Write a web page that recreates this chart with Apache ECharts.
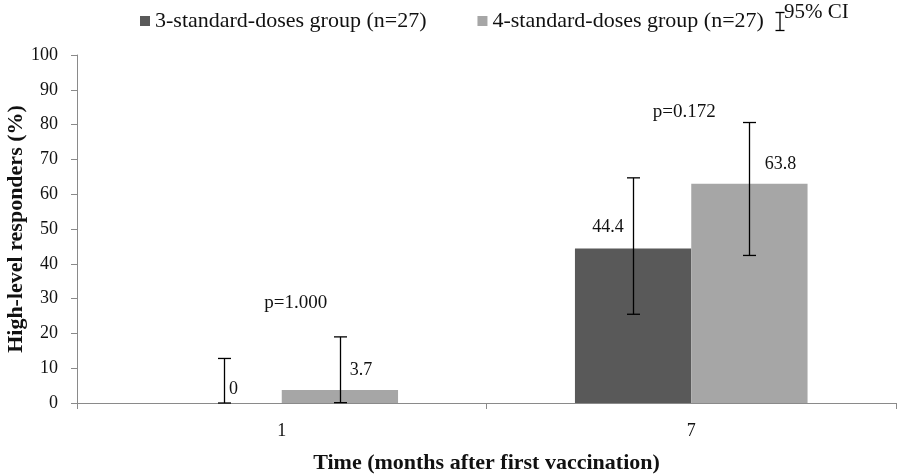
<!DOCTYPE html>
<html>
<head>
<meta charset="utf-8">
<script src="https://cdn.jsdelivr.net/npm/echarts@6/dist/echarts.min.js"></script>
<style>
html,body{margin:0;padding:0;background:#fff;}
#chart{width:898px;height:475px;}
</style>
</head>
<body>
<div id="chart"></div>
<script>
// ---- data ----
var categories = ['1', '7'];
var seriesNames = ['3-standard-doses group (n=27)', '4-standard-doses group (n=27)'];
var threeDoseValues = [0, 44.4];
var fourDoseValues = [3.7, 63.0];
var threeDoseLabels = ['0', '44.4'];
var fourDoseLabels = ['3.7', '63.8'];
var threeDoseCILow = [0, 25.5];
var threeDoseCIHigh = [12.8, 64.7];
var fourDoseCILow = [0.1, 42.4];
var fourDoseCIHigh = [19.0, 80.6];
var pValues = ['p=1.000', 'p=0.172'];
var yTicks = [0, 10, 20, 30, 40, 50, 60, 70, 80, 90, 100];

// ---- layout / style ----
var FONT = '"Liberation Serif", "Times New Roman", serif';
var DARK = '#595959';
var LIGHT = '#a6a6a6';
var AXIS = '#8a8a8a';
var BAR_FRAC = 0.284;
var labelOffsetsThree = [[10, 0], [-25, -7]];
var labelOffsetsFour = [[21, -6], [31, -5]];
var pLayout = [{ level: 28.7, dx: 14 }, { level: 83.5, dx: -7 }];

function barData(values, labels, offsets) {
  return values.map(function (v, i) {
    return { value: v, label: { offset: offsets[i], formatter: labels[i] } };
  });
}
function ciData(lows, highs) {
  return lows.map(function (l, i) { return [i, l, highs[i]]; });
}
function errorRender(side) {
  return function (params, api) {
    var idx = api.value(0);
    var band = api.size([1, 0])[0];
    var dx = side * band * BAR_FRAC / 2;
    var lo = api.coord([idx, api.value(1)]);
    var hi = api.coord([idx, api.value(2)]);
    var x = Math.round(lo[0] + dx) + 0.5;
    var cap = 6.5;
    var st = { stroke: '#000', lineWidth: 1.3 };
    return {
      type: 'group',
      children: [
        { type: 'line', shape: { x1: x, y1: lo[1], x2: x, y2: hi[1] }, style: st },
        { type: 'line', shape: { x1: x - cap, y1: hi[1], x2: x + cap, y2: hi[1] }, style: st },
        { type: 'line', shape: { x1: x - cap, y1: lo[1], x2: x + cap, y2: lo[1] }, style: st }
      ]
    };
  };
}

var chart = echarts.init(document.getElementById('chart'), null, { renderer: 'canvas' });
var option = {
  backgroundColor: '#fff',
  animation: false,
  textStyle: { fontFamily: FONT },
  grid: { left: 77, right: 2, top: 55, bottom: 72, containLabel: false, outerBoundsMode: 'none' },
  legend: {
    data: seriesNames,
    left: 135,
    top: 5,
    itemWidth: 10,
    itemHeight: 10,
    itemGap: 51,
    icon: 'rect',
    textStyle: { fontFamily: FONT, fontSize: 22, color: '#111' }
  },
  graphic: [
    {
      type: 'group', left: 773, top: 10,
      children: [
        { type: 'line', shape: { x1: 4.5, y1: 0, x2: 4.5, y2: 18 }, style: { stroke: '#000', lineWidth: 1.3 } },
        { type: 'line', shape: { x1: 0, y1: 0, x2: 9, y2: 0 }, style: { stroke: '#000', lineWidth: 1.3 } },
        { type: 'line', shape: { x1: 0, y1: 18, x2: 9, y2: 18 }, style: { stroke: '#000', lineWidth: 1.3 } }
      ]
    },
    {
      type: 'text', left: 784, top: 2,
      style: { text: '95% CI', fontFamily: FONT, fontSize: 21, fill: '#111' }
    }
  ],
  xAxis: {
    type: 'category',
    data: categories,
    boundaryGap: true,
    name: 'Time (months after first vaccination)',
    nameLocation: 'middle',
    nameGap: 49,
    nameTextStyle: { fontFamily: FONT, fontSize: 22, fontWeight: 'bold', color: '#111' },
    axisLine: { show: true, lineStyle: { color: AXIS, width: 1 } },
    axisTick: { show: true, length: 6, lineStyle: { color: AXIS } },
    axisLabel: { fontFamily: FONT, fontSize: 18, color: '#111', margin: 19 },
    splitLine: { show: false }
  },
  yAxis: {
    type: 'value',
    min: 0,
    max: 100,
    interval: 10,
    name: 'High-level responders (%)',
    nameLocation: 'middle',
    nameGap: 50,
    nameRotate: 90,
    nameMoveOverlap: false,
    nameTextStyle: { fontFamily: FONT, fontSize: 22, fontWeight: 'bold', color: '#111' },
    axisLine: { show: true, lineStyle: { color: AXIS, width: 1 } },
    axisTick: { show: true, length: 6, lineStyle: { color: AXIS } },
    axisLabel: {
      fontFamily: FONT, fontSize: 18, color: '#111', margin: 19,
      formatter: function (v) { return yTicks.indexOf(v) >= 0 ? String(v) : ''; }
    },
    splitLine: { show: false }
  },
  series: [
    {
      name: seriesNames[0],
      type: 'bar',
      barWidth: (BAR_FRAC * 100) + '%',
      barGap: '0%',
      itemStyle: { color: DARK },
      label: { show: true, position: 'top', fontFamily: FONT, fontSize: 18, color: '#111' },
      data: barData(threeDoseValues, threeDoseLabels, labelOffsetsThree),
      z: 2
    },
    {
      name: seriesNames[1],
      type: 'bar',
      barWidth: (BAR_FRAC * 100) + '%',
      barGap: '0%',
      itemStyle: { color: LIGHT },
      label: { show: true, position: 'top', fontFamily: FONT, fontSize: 18, color: '#111' },
      data: barData(fourDoseValues, fourDoseLabels, labelOffsetsFour),
      z: 2
    },
    {
      type: 'custom',
      renderItem: errorRender(-1),
      encode: { x: 0, y: [1, 2] },
      data: ciData(threeDoseCILow, threeDoseCIHigh),
      z: 5,
      silent: true
    },
    {
      type: 'custom',
      renderItem: errorRender(1),
      encode: { x: 0, y: [1, 2] },
      data: ciData(fourDoseCILow, fourDoseCIHigh),
      z: 5,
      silent: true
    },
    {
      type: 'custom',
      renderItem: function (params, api) {
        var i = params.dataIndex;
        var p = api.coord([i, pLayout[i].level]);
        return {
          type: 'text',
          x: p[0] + pLayout[i].dx,
          y: p[1],
          style: {
            text: pValues[i], fontFamily: FONT, fontSize: 19, fill: '#111',
            align: 'center', verticalAlign: 'middle'
          }
        };
      },
      encode: { x: 0 },
      data: categories.map(function (c, i) { return [i]; }),
      z: 6,
      silent: true
    }
  ]
};
chart.setOption(option);
</script>
</body>
</html>
